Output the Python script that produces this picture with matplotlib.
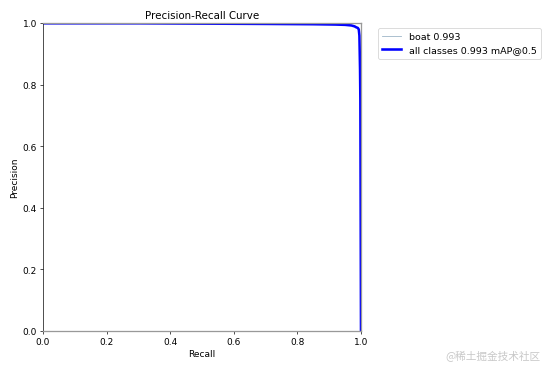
import numpy as np
import matplotlib
matplotlib.use("Agg")
import matplotlib.pyplot as plt

# PR curve (single class, so both curves coincide)
recall = [0.0, 0.3, 0.5, 0.7, 0.85, 0.92, 0.95, 0.97, 0.98, 0.985, 0.99, 0.993, 0.995, 0.997, 0.998, 1.0]
precision = [1.0, 1.0, 0.999, 0.998, 0.997, 0.996, 0.995, 0.993, 0.99, 0.987, 0.985, 0.98, 0.96, 0.85, 0.75, 0.0]
class_name = "boat"
class_ap = 0.993
map50 = 0.993

fig = plt.figure(figsize=(9, 6), dpi=553 / 9)
ax = fig.add_axes([43 / 553, 1 - 332 / 369, 318 / 553, 308 / 369])

ax.plot(recall, precision, linewidth=1, color="#9fb7c9", label=f"{class_name} {class_ap:.3f}")
ax.plot(recall, precision, linewidth=3, color="blue", label=f"all classes {map50:.3f} mAP@0.5")

ax.set_xlabel("Recall", fontsize=10.5)
ax.set_ylabel("Precision", fontsize=10.5)
ax.set_xlim(0, 1)
ax.set_ylim(0, 1)
ax.set_title("Precision-Recall Curve", fontsize=12)
ax.tick_params(labelsize=10.5)
for s in ("bottom", "right", "top"):
    ax.spines[s].set_color("#999999")
    ax.spines[s].set_linewidth(1.5)
ax.legend(bbox_to_anchor=(1.04, 1), loc="upper left", fontsize=11.2)

fig.text(0.978, 0.018, "@稀土掘金技术社区", ha="right", va="bottom", color="#c8c8c8",
         fontsize=12.5, family=["Noto Sans CJK SC", "DejaVu Sans"])

fig.savefig("out.png")
